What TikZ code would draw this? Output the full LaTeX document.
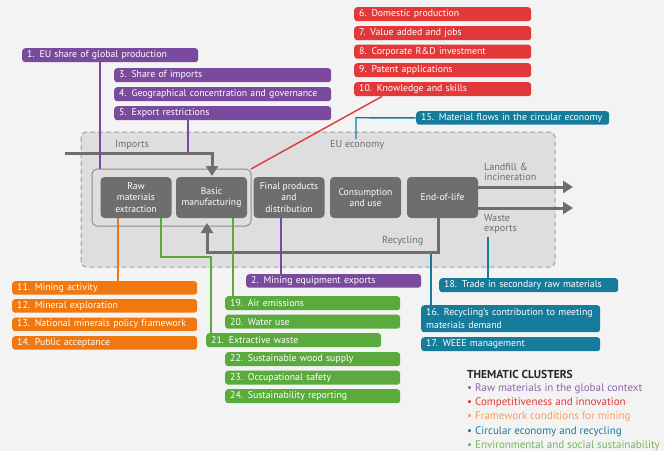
\documentclass[tikz,border=0pt]{standalone}
\usepackage{fontspec}
\setmainfont{PT Sans}
\usetikzlibrary{arrows.meta}
\definecolor{cpur}{HTML}{7A4A9E}
\definecolor{cred}{HTML}{E2383A}
\definecolor{cora}{HTML}{F0780F}
\definecolor{ctea}{HTML}{167C9C}
\definecolor{cgre}{HTML}{5BAA3E}
\definecolor{cbg}{HTML}{F3F3F3}
\definecolor{ceu}{HTML}{DEDEDE}
\definecolor{cdk}{HTML}{6E6E6E}
\newcommand\tagbox[7]{%
  \pgfmathsetmacro\tbw{#5-9}%
  \node[tagb, fill=#2, minimum width=#5pt, minimum height=#6pt, text width=\tbw pt] (#1) at (#3,#4) {#7};}
\begin{document}
\begin{tikzpicture}[x=1pt,y=-1pt,
  tagb/.style={anchor=north west, rounded corners=3pt, draw=none, text=white, inner xsep=5pt, inner ysep=0pt, align=left, font=\fontsize{9.8}{12.5}\selectfont},
  proc/.style={fill=cdk, rounded corners=4pt, text=white, minimum width=71pt, minimum height=41pt, inner sep=1pt, align=center, font=\fontsize{9.6}{11.5}\selectfont},
  flow/.style={draw=cdk, line width=3pt},
  flowarr/.style={flow, -{Triangle[length=10pt,width=12pt]}},
  conn/.style={line width=1.4pt},
  lbl/.style={text=cdk, font=\fontsize{10.2}{10.5}\selectfont, align=left, inner sep=0pt},
  leg/.style={anchor=west, inner sep=0pt, font=\fontsize{11}{12}\selectfont}]
\useasboundingbox (0,0) rectangle (664,451);
\fill[cbg] (0,0) rectangle (664,451);
% EU economy box
\draw[fill=ceu, draw=gray!75, dashed, line width=1pt, dash pattern=on 5pt off 3pt, rounded corners=5pt] (81,132) rectangle (555,267);
\node[lbl, anchor=west] (imp) at (115,145) {Imports};
\node[lbl, anchor=west] (eu) at (330,145) {EU economy};
% group box
\draw[draw=gray!90, line width=1pt, rounded corners=5pt] (92,169) rectangle (251,226);
\coordinate (grpNE) at (251,169);
% process boxes
\node[proc] (raw) at (136,197.5) {Raw\\materials\\extraction};
\node[proc] (basic) at (211.5,197.5) {Basic\\manufacturing};
\node[proc] (final) at (289,197.5) {Final products\\and\\distribution};
\node[proc] (cons) at (365.5,197.5) {Consumption\\and use};
\node[proc] (eol) at (442.5,197.5) {End-of-life};
% flows
\coordinate (impS) at (65,153);
\coordinate (impT) at (212,176);
\draw[flowarr] (impS) -- (212,153) -- (impT);
\coordinate (lf) at (573,187);
\coordinate (we) at (573,208);
\draw[flowarr] (eol.east |- lf) -- (lf);
\draw[flowarr] (eol.east |- we) -- (we);
\coordinate (recT) at (207,223);
\draw[flowarr] (438,218) -- (438,252) -- (207,252) -- (recT);
\node[lbl, anchor=north west] (landfill) at (484,163) {Landfill \&\\incineration};
\node[lbl, anchor=north west] (wexp) at (484,214) {Waste\\exports};
\node[lbl, anchor=west] (recy) at (382,241) {Recycling};
% purple boxes
\tagbox{p1}{cpur}{22}{48}{175}{14}{1. EU share of global production}
\tagbox{p3}{cpur}{114}{68}{216}{14}{3. Share of imports}
\tagbox{p4}{cpur}{114}{87}{216}{14}{4. Geographical concentration and governance}
\tagbox{p5}{cpur}{114}{106}{216}{14}{5. Export restrictions}
\tagbox{p2}{cpur}{246}{274}{174}{13.5}{2. Mining equipment exports}
% red boxes
\tagbox{r6}{cred}{354}{7}{176}{14}{6. Domestic production}
\tagbox{r7}{cred}{354}{26}{176}{14}{7. Value added and jobs}
\tagbox{r8}{cred}{354}{44.5}{176}{14}{8. Corporate R\&D investment}
\tagbox{r9}{cred}{354}{63}{176}{14}{9. Patent applications}
\tagbox{r10}{cred}{354}{82}{176}{14}{10. Knowledge and skills}
% orange boxes
\tagbox{o11}{cora}{12}{281}{184}{13.5}{11. Mining activity}
\tagbox{o12}{cora}{12}{299}{184}{13.5}{12. Mineral exploration}
\tagbox{o13}{cora}{12}{317.5}{184}{13.5}{13. National minerals policy framework}
\tagbox{o14}{cora}{12}{336}{184}{13.5}{14. Public acceptance}
% teal boxes
\tagbox{t15}{ctea}{416}{111}{192}{13.5}{15. Material flows in the circular economy}
\tagbox{t18}{ctea}{439}{278}{178}{14}{18. Trade in secondary raw materials}
\tagbox{t16}{ctea}{421}{305}{178}{27}{16. Recycling's contribution to meeting\\materials demand}
\tagbox{t17}{ctea}{421}{337}{178}{14}{17. WEEE management}
% green boxes
\tagbox{g19}{cgre}{225}{296}{174}{14}{19. Air emissions}
\tagbox{g20}{cgre}{225}{314.5}{174}{14}{20. Water use}
\tagbox{g21}{cgre}{206}{333}{174}{14}{21. Extractive waste}
\tagbox{g22}{cgre}{225}{352}{174}{14}{22. Sustainable wood supply}
\tagbox{g23}{cgre}{225}{370.5}{174}{14}{23. Occupational safety}
\tagbox{g24}{cgre}{225}{389}{174}{14}{24. Sustainability reporting}
% connectors
\draw[conn, cpur] (p1.south -| 100,0) -- (100,169);
\draw[conn, cpur] (p5.south -| 188,0) -- (188,153);
\draw[conn, cpur] (final.south -| 281,0) -- (p2.north -| 281,0);
\draw[conn, cred] (r10.south west) ++(28,0) -- (grpNE);
\coordinate (t15c) at (356,139);
\draw[conn, ctea] (t15.west) -- (356,117.75) -- (t15c);
\draw[conn, cora] (raw.south -| 118,0) -- (o11.north -| 118,0);
\draw[conn, cgre] (raw.south -| 161,0) -- (161,257) -- (211,257) -- (g21.north -| 211,0);
\draw[conn, cgre] (basic.south -| 233,0) -- (g19.north -| 233,0);
\draw[conn, ctea] (431,254) -- (t16.north -| 431,0);
\draw[conn, ctea] (488,237) -- (t18.north -| 488,0);
% legend
\node[leg, font=\fontsize{11.5}{12}\selectfont\bfseries, text=black!85] (lt) at (467,374) {THEMATIC CLUSTERS};
\node[leg, text=cpur!85] (l1) at (467,388.5) {• Raw materials in the global context};
\node[leg, text=cred] (l2) at (467,403) {• Competitiveness and innovation};
\node[leg, text=cora!70] (l3) at (467,417) {• Framework conditions for mining};
\node[leg, text=ctea] (l4) at (467,431.5) {• Circular economy and recycling};
\node[leg, text=cgre!85] (l5) at (467,446) {• Environmental and social sustainability};
\end{tikzpicture}
\end{document}
